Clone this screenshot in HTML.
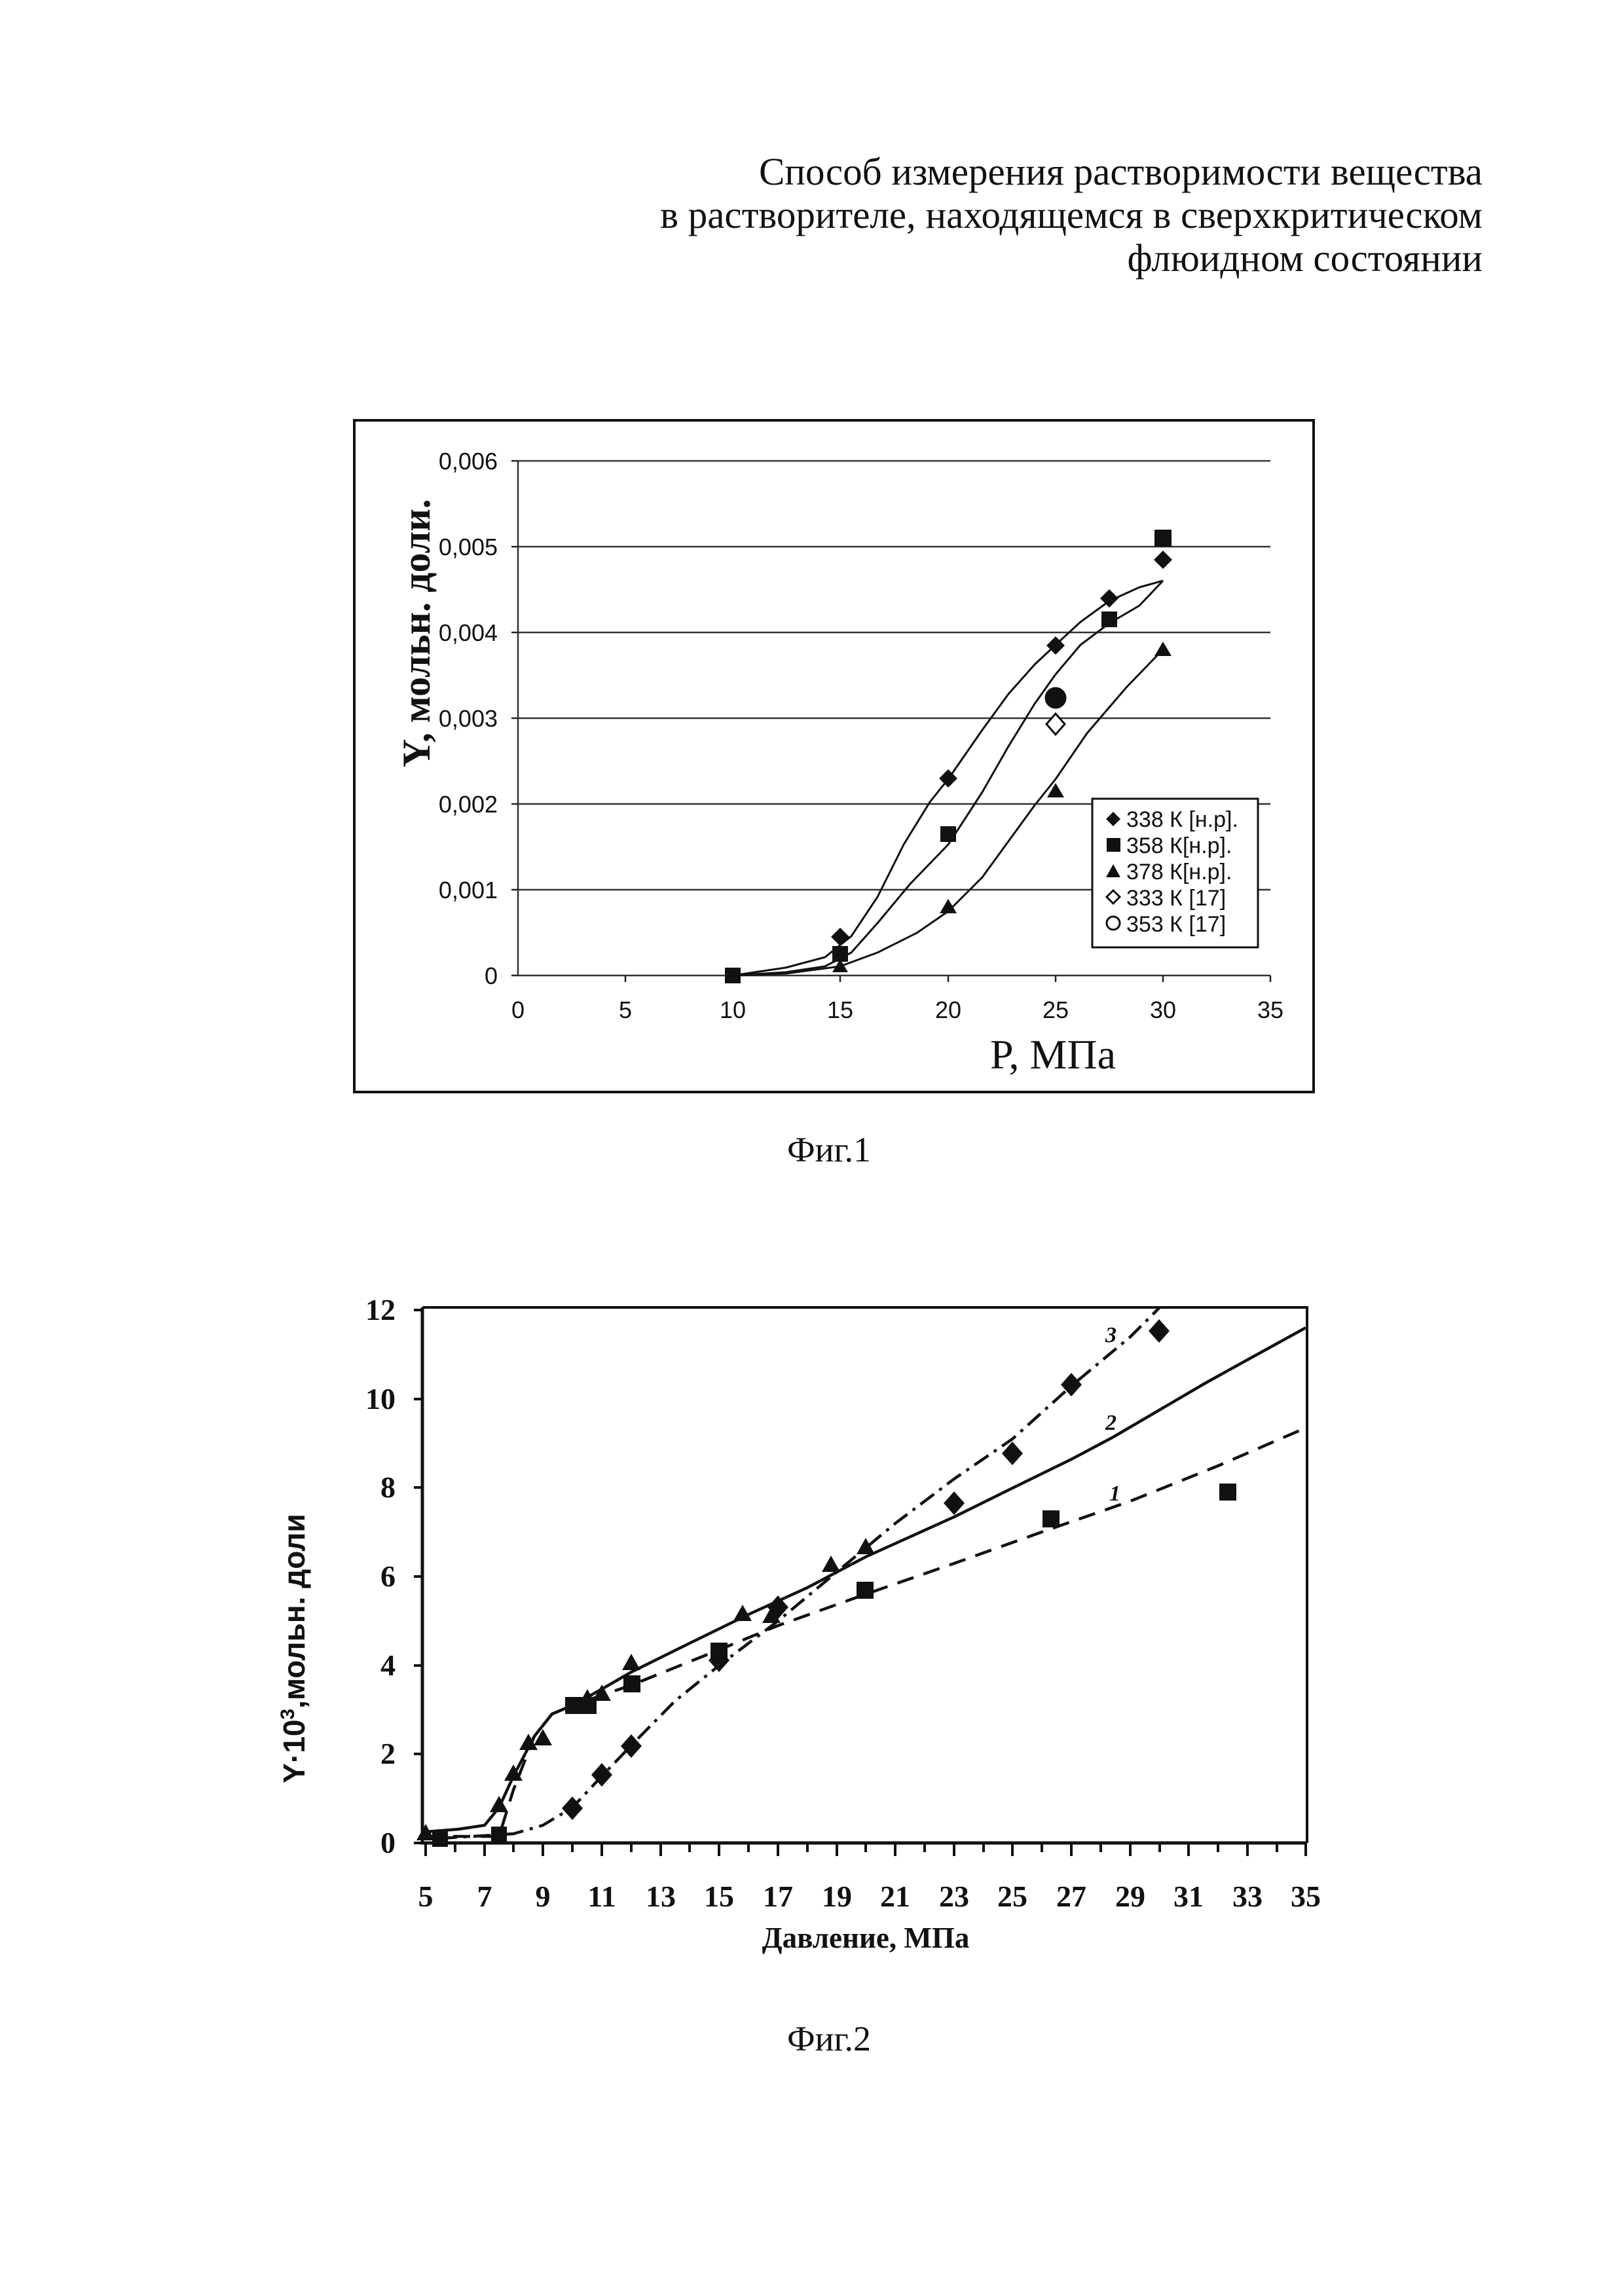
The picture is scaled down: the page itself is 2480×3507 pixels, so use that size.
<!DOCTYPE html>
<html><head><meta charset="utf-8"><style>
html,body{margin:0;padding:0;background:#fff}
svg{display:block}
</style></head><body>
<svg width="2480" height="3507" viewBox="0 0 2480 3507" xmlns="http://www.w3.org/2000/svg">
<rect width="2480" height="3507" fill="#fff"/>
<g font-family="Liberation Serif, serif" font-size="59" text-anchor="end" fill="#111">
<text x="2264" y="282">Способ измерения растворимости вещества</text>
<text x="2264" y="348">в растворителе, находящемся в сверхкритическом</text>
<text x="2264" y="414">флюидном состоянии</text>
</g>

<!-- Fig 1 -->
<rect x="541" y="642" width="1465" height="1026" fill="none" stroke="#111" stroke-width="4"/>
<g stroke="#333" stroke-width="2.5">
<line x1="791" y1="704" x2="1940" y2="704"/>
<line x1="791" y1="835" x2="1940" y2="835"/>
<line x1="791" y1="966" x2="1940" y2="966"/>
<line x1="791" y1="1097" x2="1940" y2="1097"/>
<line x1="791" y1="1228" x2="1940" y2="1228"/>
<line x1="791" y1="1359" x2="1940" y2="1359"/>
<line x1="791" y1="1490" x2="1940" y2="1490"/>
<line x1="791" y1="704" x2="791" y2="1490"/>
</g>
<g stroke="#222" stroke-width="2.5">
<line x1="781" y1="704" x2="791" y2="704"/><line x1="781" y1="835" x2="791" y2="835"/><line x1="781" y1="966" x2="791" y2="966"/><line x1="781" y1="1097" x2="791" y2="1097"/><line x1="781" y1="1228" x2="791" y2="1228"/><line x1="781" y1="1359" x2="791" y2="1359"/><line x1="781" y1="1490" x2="791" y2="1490"/>
<line x1="955" y1="1490" x2="955" y2="1500"/><line x1="1119" y1="1490" x2="1119" y2="1500"/><line x1="1283" y1="1490" x2="1283" y2="1500"/><line x1="1448" y1="1490" x2="1448" y2="1500"/><line x1="1612" y1="1490" x2="1612" y2="1500"/><line x1="1776" y1="1490" x2="1776" y2="1500"/><line x1="1940" y1="1490" x2="1940" y2="1500"/>
</g>
<g font-family="Liberation Sans Narrow, Liberation Sans, sans-serif" font-size="36" fill="#111" text-anchor="end">
<text x="760" y="717">0,006</text><text x="760" y="848">0,005</text><text x="760" y="979">0,004</text><text x="760" y="1110">0,003</text><text x="760" y="1241">0,002</text><text x="760" y="1372">0,001</text><text x="760" y="1503">0</text>
</g>
<g font-family="Liberation Sans Narrow, Liberation Sans, sans-serif" font-size="36" fill="#111" text-anchor="middle">
<text x="791" y="1555">0</text><text x="955" y="1555">5</text><text x="1119" y="1555">10</text><text x="1283" y="1555">15</text><text x="1448" y="1555">20</text><text x="1612" y="1555">25</text><text x="1776" y="1555">30</text><text x="1940" y="1555">35</text>
</g>
<text transform="translate(656,967) rotate(-90)" text-anchor="middle" font-family="Liberation Serif, serif" font-weight="bold" font-size="60" fill="#111">Y, мольн. доли.</text>
<text x="1608" y="1632" text-anchor="middle" font-family="Liberation Serif, serif" font-size="64" fill="#111">P, МПа</text>
<g fill="none" stroke="#111" stroke-width="3" stroke-linejoin="round">
<path d="M1119,1490 L1200,1478 L1260,1462 L1300,1430 L1340,1370 L1380,1290 L1420,1225 L1448,1190 L1500,1115 L1540,1060 L1580,1015 L1612,985 L1650,950 L1694,918 L1740,897 L1776,887"/>
<path d="M1119,1490 L1200,1485 L1260,1476 L1300,1455 L1340,1410 L1390,1350 L1448,1290 L1500,1210 L1540,1140 L1580,1075 L1612,1030 L1650,985 L1694,952 L1740,925 L1776,887"/>
<path d="M1119,1490 L1200,1487 L1283,1476 L1340,1455 L1400,1425 L1448,1392 L1500,1340 L1540,1285 L1580,1230 L1612,1190 L1660,1120 L1720,1050 L1776,992"/>
</g>
<g fill="#111">
<path d="M1283,1417 l14,14 l-14,14 l-14,-14z"/><path d="M1448,1175 l14,14 l-14,14 l-14,-14z"/><path d="M1612,972 l14,14 l-14,14 l-14,-14z"/><path d="M1694,900 l14,14 l-14,14 l-14,-14z"/><path d="M1776,841 l14,14 l-14,14 l-14,-14z"/>
<rect x="1107" y="1478" width="24" height="24"/><rect x="1271" y="1445" width="24" height="24"/><rect x="1436" y="1262" width="24" height="24"/><rect x="1682" y="934" width="24" height="24"/><rect x="1763" y="809" width="26" height="26"/>
<path d="M1283,1465 l12,20 h-24z"/><path d="M1448,1373 l13,22 h-26z"/><path d="M1612,1196 l13,22 h-26z"/><path d="M1776,980 l13,22 h-26z"/>
<circle cx="1612" cy="1066" r="15"/>
</g>
<path d="M1612,1090 l14,16 l-14,16 l-14,-16z" fill="#fff" stroke="#111" stroke-width="3"/>
<circle cx="1612" cy="1066" r="15" fill="none" stroke="#111" stroke-width="3"/>
<rect x="1668" y="1220" width="253" height="227" fill="#fff" stroke="#111" stroke-width="3"/>
<g font-family="Liberation Sans Narrow, Liberation Sans, sans-serif" font-size="34" fill="#111">
<path d="M1700,1240 l11,11 l-11,11 l-11,-11z"/><text x="1720" y="1263">338 К [н.р].</text>
<rect x="1690" y="1280" width="21" height="21"/><text x="1720" y="1303">358 К[н.р].</text>
<path d="M1700,1320 l11,20 h-22z"/><text x="1720" y="1343">378 К[н.р].</text>
<path d="M1700,1360 l10,10 l-10,10 l-10,-10z" fill="#fff" stroke="#111" stroke-width="3"/><text x="1720" y="1383">333 К [17]</text>
<circle cx="1700" cy="1410" r="10" fill="none" stroke="#111" stroke-width="3"/><text x="1720" y="1423">353 К [17]</text>
</g>
<text x="1266" y="1774" text-anchor="middle" font-family="Liberation Serif, serif" font-size="54" fill="#111">Фиг.1</text>

<!-- Fig 2 -->
<path d="M645,1997 H1996 V2815" fill="none" stroke="#111" stroke-width="4"/>
<path d="M645,1997 V2815 H1996" fill="none" stroke="#111" stroke-width="5"/>
<g stroke="#111" stroke-width="4">
<line x1="632" y1="2001" x2="645" y2="2001"/><line x1="632" y1="2137" x2="645" y2="2137"/><line x1="632" y1="2272" x2="645" y2="2272"/><line x1="632" y1="2408" x2="645" y2="2408"/><line x1="632" y1="2544" x2="645" y2="2544"/><line x1="632" y1="2679" x2="645" y2="2679"/><line x1="632" y1="2815" x2="645" y2="2815"/>
<path d="M650,2815v20M695,2815v14M740,2815v20M784,2815v14M829,2815v20M874,2815v14M919,2815v20M964,2815v14M1009,2815v20M1053,2815v14M1098,2815v20M1143,2815v14M1188,2815v20M1233,2815v14M1278,2815v20M1322,2815v14M1367,2815v20M1412,2815v14M1457,2815v20M1502,2815v14M1546,2815v20M1591,2815v14M1636,2815v20M1681,2815v14M1726,2815v20M1771,2815v14M1815,2815v20M1860,2815v14M1905,2815v20M1950,2815v14M1994,2815v20"/>
</g>
<g font-family="Liberation Serif, serif" font-weight="bold" font-size="46" fill="#111" text-anchor="end">
<text x="604" y="2016">12</text><text x="604" y="2152">10</text><text x="604" y="2287">8</text><text x="604" y="2423">6</text><text x="604" y="2559">4</text><text x="604" y="2694">2</text><text x="604" y="2830">0</text>
</g>
<g font-family="Liberation Serif, serif" font-weight="bold" font-size="46" fill="#111" text-anchor="middle">
<text x="650" y="2912">5</text><text x="740" y="2912">7</text><text x="829" y="2912">9</text><text x="919" y="2912">11</text><text x="1009" y="2912">13</text><text x="1098" y="2912">15</text><text x="1188" y="2912">17</text><text x="1278" y="2912">19</text><text x="1367" y="2912">21</text><text x="1457" y="2912">23</text><text x="1546" y="2912">25</text><text x="1636" y="2912">27</text><text x="1726" y="2912">29</text><text x="1815" y="2912">31</text><text x="1905" y="2912">33</text><text x="1994" y="2912">35</text>
</g>
<text x="1322" y="2975" text-anchor="middle" font-family="Liberation Serif, serif" font-weight="bold" font-size="45" fill="#111">Давление,  МПа</text>
<text transform="translate(465,2518) rotate(-90)" text-anchor="middle" font-family="Liberation Sans, sans-serif" font-weight="bold" font-size="46" fill="#111">Y·10<tspan font-size="30" dy="-16">3</tspan><tspan dy="16">,мольн. доли</tspan></text>
<g fill="none" stroke="#111" stroke-width="4.5" stroke-linejoin="round">
<path d="M650,2798 L700,2794 L740,2788 L762,2761 L784,2713 L816,2652 L843,2618 L874,2605 L919,2580 L964,2554 L1053,2510 L1143,2466 L1233,2425 L1322,2378 L1457,2317 L1546,2273 L1636,2229 L1700,2195 L1770,2154 L1840,2113 L1905,2077 L1994,2028"/>
<path d="M650,2805 L762,2805 L784,2734 L816,2652 L843,2618 L874,2605 L964,2574 L1098,2520 L1188,2483 L1322,2435 L1457,2388 L1591,2340 L1726,2293 L1860,2239 L1994,2181" stroke-dasharray="26,16"/>
<path d="M672,2808 L784,2801 L829,2788 L874,2761 L919,2713 L964,2666 L1031,2598 L1098,2544 L1188,2476 L1278,2401 L1367,2327 L1457,2259 L1546,2198 L1636,2117 L1726,2042 L1770,1998" stroke-dasharray="26,10,5,10"/>
</g>
<g fill="#111">
<path d="M650,2786 l14,25 h-28z"/><path d="M762,2743 l14,25 h-28z"/><path d="M784,2695 l14,25 h-28z"/><path d="M807,2648 l14,25 h-28z"/><path d="M829,2641 l14,25 h-28z"/><path d="M897,2580 l14,25 h-28z"/><path d="M919,2573 l14,25 h-28z"/><path d="M964,2526 l14,25 h-28z"/><path d="M1134,2451 l14,25 h-28z"/><path d="M1269,2376 l14,25 h-28z"/><path d="M1322,2349 l14,25 h-28z"/><path d="M1178,2454 l14,25 h-28z"/>
<rect x="660" y="2797" width="24" height="24"/><rect x="750" y="2790" width="24" height="24"/><rect x="863" y="2592" width="26" height="26"/><rect x="885" y="2592" width="26" height="26"/><rect x="952" y="2559" width="26" height="26"/><rect x="1085" y="2509" width="26" height="26"/><rect x="1308" y="2416" width="26" height="26"/><rect x="1592" y="2307" width="26" height="26"/><rect x="1862" y="2266" width="26" height="26"/>
<path d="M874,2744 l16,18 l-16,18 l-16,-18z"/><path d="M919,2693 l16,18 l-16,18 l-16,-18z"/><path d="M964,2649 l16,18 l-16,18 l-16,-18z"/><path d="M1098,2518 l16,18 l-16,18 l-16,-18z"/><path d="M1188,2437 l16,18 l-16,18 l-16,-18z"/><path d="M1457,2278 l16,18 l-16,18 l-16,-18z"/><path d="M1546,2202 l16,18 l-16,18 l-16,-18z"/><path d="M1636,2097 l16,18 l-16,18 l-16,-18z"/><path d="M1770,2015 l16,18 l-16,18 l-16,-18z"/>
</g>
<g font-family="Liberation Serif, serif" font-style="italic" font-weight="bold" font-size="34" fill="#111">
<text x="1688" y="2050">3</text><text x="1688" y="2184">2</text><text x="1694" y="2292">1</text>
</g>
<text x="1266" y="3132" text-anchor="middle" font-family="Liberation Serif, serif" font-size="54" fill="#111">Фиг.2</text>
</svg>
</body></html>
